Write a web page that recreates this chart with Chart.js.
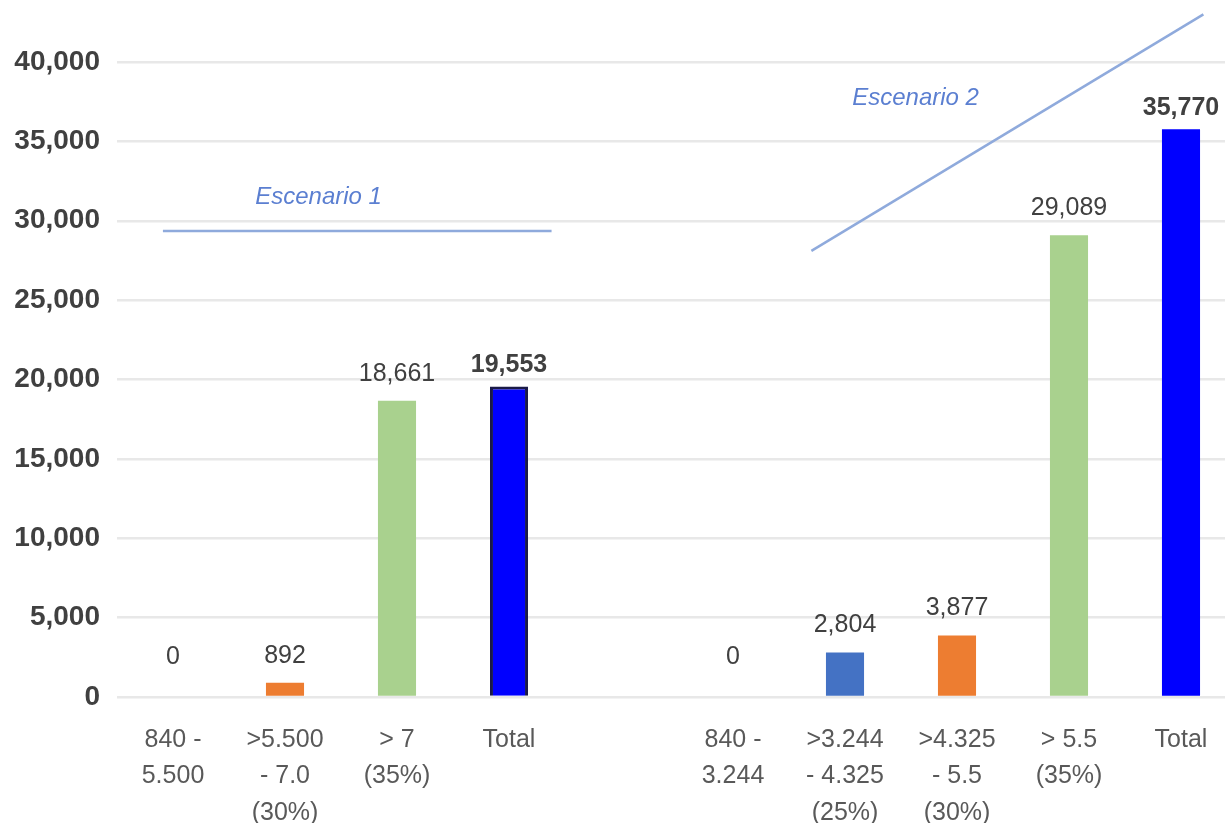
<!DOCTYPE html>
<html>
<head>
<meta charset="utf-8">
<script src="https://cdn.jsdelivr.net/npm/chart.js@4.4.1/dist/chart.umd.min.js"></script>
<style>
    html, body { margin: 0; padding: 0; background: #fff; overflow: hidden; }
    #wrap { width: 1240px; height: 823px; }
</style>
</head>
<body>
<div id="wrap"><canvas id="rangos-chart"></canvas></div>
<script>
const categories = [
    ['840 -', '5.500'],
    ['>5.500', '- 7.0', '(30%)'],
    ['> 7', '(35%)'],
    ['Total'],
    [''],
    ['840 -', '3.244'],
    ['>3.244', '- 4.325', '(25%)'],
    ['>4.325', '- 5.5', '(30%)'],
    ['> 5.5', '(35%)'],
    ['Total']
]
const values = [0, 892, 18661, 19553, null, 0, 2804, 3877, 29089, 35770]
const isTotal = [false, false, false, true, false, false, false, false, false, true]
const barColors = ['#4472C4', '#ED7D31', '#A9D18E', '#0000FF', '#ffffff', '#4472C4', '#4472C4', '#ED7D31', '#A9D18E', '#0000FF']
const yTicks = [0, 5000, 10000, 15000, 20000, 25000, 30000, 35000, 40000]

// escenario notes, in category index / value units
const scenarioNotes = [
    { text: 'Escenario 1', at: [1.3, 31500], line: [[-0.09, 29350], [3.38, 29350]] },
    { text: 'Escenario 2', at: [6.63, 37700], line: [[5.7, 28100], [9.2, 43000]] }
]

const fmt = function (v) { return v.toLocaleString('en-US') }
const font = 'Liberation Sans, Arial, sans-serif'

const valueLabels = {
    id: 'valueLabels',
    afterDatasetsDraw: function (chart) {
        const ctx = chart.ctx
        const meta = chart.getDatasetMeta(0)
        ctx.save()
        ctx.textAlign = 'center'
        ctx.textBaseline = 'middle'
        ctx.fillStyle = '#404040'
        meta.data.forEach(function (bar, i) {
            if (values[i] === null) return
            const gap = values[i] === 0 ? 40 : (isTotal[i] ? 21 : 27)
            ctx.font = (isTotal[i] ? 'bold ' : '') + '25px ' + font
            ctx.fillText(fmt(values[i]), bar.x, bar.y - gap)
        })
        ctx.restore()
    }
}

const notes = {
    id: 'notes',
    afterDraw: function (chart) {
        const ctx = chart.ctx
        const x = chart.scales.x
        const y = chart.scales.y
        ctx.save()
        scenarioNotes.forEach(function (n) {
            ctx.strokeStyle = '#8FAADC'
            ctx.lineWidth = 2.5
            ctx.beginPath()
            ctx.moveTo(x.getPixelForValue(n.line[0][0]), y.getPixelForValue(n.line[0][1]))
            ctx.lineTo(x.getPixelForValue(n.line[1][0]), y.getPixelForValue(n.line[1][1]))
            ctx.stroke()
            ctx.fillStyle = '#5B7FD1'
            ctx.font = 'italic 24px ' + font
            ctx.textAlign = 'center'
            ctx.textBaseline = 'middle'
            ctx.fillText(n.text, x.getPixelForValue(n.at[0]), y.getPixelForValue(n.at[1]))
        })
        ctx.restore()
    }
}

const data = {
    labels: categories,
    datasets: [{
        data: values,
        backgroundColor: barColors,
        borderColor: barColors.map(function (c, i) { return i === 3 ? '#1A1A48' : c }),
        borderWidth: barColors.map(function (c, i) { return i === 3 ? 3 : 0 }),
        barPercentage: 0.34,
        categoryPercentage: 1
    }]
}

const config = {
    type: 'bar',
    data: data,
    options: {
        responsive: true,
        maintainAspectRatio: false,
        animation: false,
        layout: { padding: { top: 62, right: 3, bottom: 0, left: 0 } },
        plugins: {
            legend: { display: false },
            tooltip: { enabled: false }
        },
        scales: {
            x: {
                grid: { display: false, drawTicks: false },
                border: { display: false },
                ticks: {
                    color: '#595959',
                    font: { family: font, size: 25, lineHeight: 1.45 },
                    padding: 25,
                    maxRotation: 0,
                    autoSkip: false
                },
                afterFit: function (scale) { scale.height = 126 }
            },
            y: {
                min: 0,
                max: 40000,
                afterBuildTicks: function (scale) {
                    scale.ticks = yTicks.map(function (v) { return { value: v } })
                },
                grid: { color: '#e8e8e8', lineWidth: 2.5, drawTicks: false },
                border: { display: false },
                ticks: {
                    color: '#404040',
                    font: { family: font, size: 28, weight: 'bold' },
                    padding: 17,
                    callback: function (v) { return fmt(v) }
                },
                afterFit: function (scale) { scale.width = 117 }
            }
        }
    },
    plugins: [valueLabels, notes]
}

const rangosChart = new Chart(
    document.getElementById('rangos-chart'),
    config
)
</script>
</body>
</html>
